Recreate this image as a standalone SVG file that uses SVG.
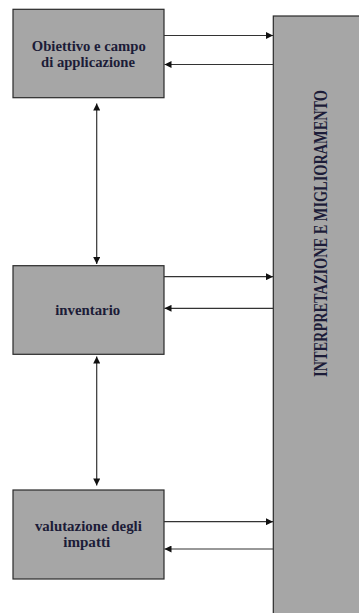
<svg xmlns="http://www.w3.org/2000/svg" width="359" height="613" viewBox="0 0 359 613">
<style>
.box{fill:#a6a6a6;stroke:#2a2a2a;stroke-width:1.2}
.lbl{font-family:"Liberation Serif","Times New Roman",serif;font-weight:bold;font-size:14px;fill:#1c1c38;text-anchor:middle}
.con line{stroke:#333;stroke-width:1.2;fill:none}
</style>
<defs>
<marker id="ah" viewBox="0 0 10 10" refX="10" refY="5" markerWidth="8" markerHeight="7" markerUnits="userSpaceOnUse" orient="auto">
<path d="M0,0 L10,5 L0,10 Z" fill="#111"/>
</marker>
</defs>
<rect width="359" height="613" fill="#fff"/>
<g id="interpretazione">
<rect class="box" x="273.3" y="16" width="90" height="610"/>
<text class="lbl" font-size="16" transform="translate(326.5,233.5) scale(1.3,1) rotate(-90)" x="0" y="0" textLength="287" lengthAdjust="spacingAndGlyphs" fill="#151515">INTERPRETAZIONE E MIGLIORAMENTO</text>
</g>
<g id="obiettivo">
<rect class="box" x="13" y="9.3" width="151" height="88.4"/>
<text class="lbl" x="88.8" y="50.5" textLength="114" lengthAdjust="spacingAndGlyphs">Obiettivo e campo</text>
<text class="lbl" x="88" y="66.5" textLength="94" lengthAdjust="spacingAndGlyphs">di applicazione</text>
</g>
<g id="inventario">
<rect class="box" x="13" y="265.7" width="151" height="88.6"/>
<text class="lbl" x="87.7" y="314.5" textLength="65" lengthAdjust="spacingAndGlyphs">inventario</text>
</g>
<g id="valutazione">
<rect class="box" x="13" y="490" width="151" height="89"/>
<text class="lbl" x="88.4" y="531" textLength="107" lengthAdjust="spacingAndGlyphs">valutazione degli</text>
<text class="lbl" x="86.7" y="547" textLength="47" lengthAdjust="spacingAndGlyphs">impatti</text>
</g>
<g id="connectors" class="con">
<line x1="164" y1="35.5" x2="273" y2="35.5" marker-end="url(#ah)"/>
<line x1="273" y1="64.5" x2="164.5" y2="64.5" marker-end="url(#ah)"/>
<line x1="164" y1="276.7" x2="273" y2="276.7" marker-end="url(#ah)"/>
<line x1="273" y1="308.3" x2="164.5" y2="308.3" marker-end="url(#ah)"/>
<line x1="164" y1="521.7" x2="273" y2="521.7" marker-end="url(#ah)"/>
<line x1="273" y1="549" x2="164.5" y2="549" marker-end="url(#ah)"/>
<line x1="96.7" y1="184" x2="96.7" y2="103.5" marker-end="url(#ah)"/>
<line x1="96.7" y1="184" x2="96.7" y2="264" marker-end="url(#ah)"/>
<line x1="96.7" y1="420" x2="96.7" y2="356.5" marker-end="url(#ah)"/>
<line x1="96.7" y1="420" x2="96.7" y2="485.5" marker-end="url(#ah)"/>
</g>
</svg>
